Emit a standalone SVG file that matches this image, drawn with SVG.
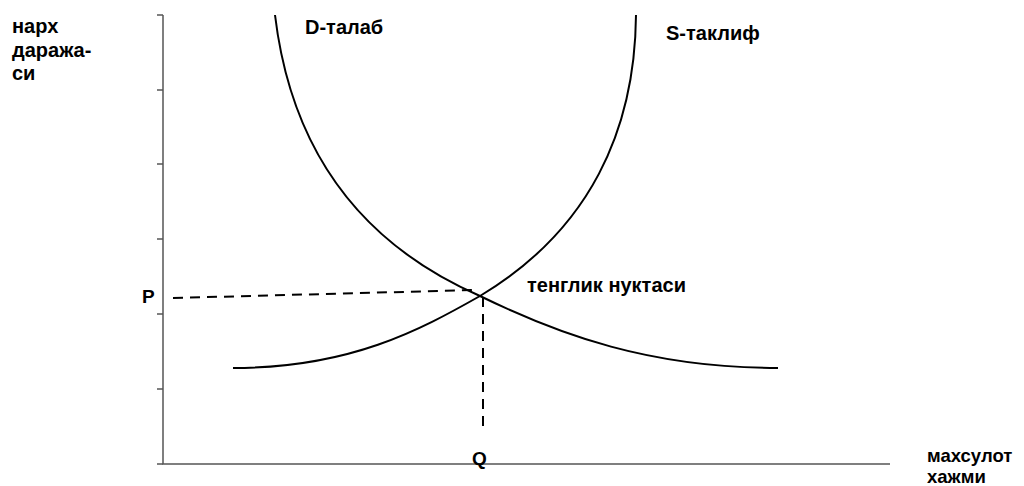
<svg xmlns="http://www.w3.org/2000/svg" width="1024" height="486" viewBox="0 0 1024 486">
<style>
.t{font-family:"Liberation Sans",Arial,sans-serif;font-weight:bold;font-size:20px;fill:#000}
.s{font-size:18.5px}
.ax{stroke:#555;stroke-width:1.5;fill:none}
.cv{stroke:#000;stroke-width:2;fill:none}
.ds{stroke:#000;stroke-width:2;fill:none;stroke-dasharray:10,7}
</style>
<rect width="1024" height="486" fill="#fff"/>
<g id="axes">
<path class="ax" d="M163,15V464H890"/>
<path class="ax" d="M157,15H163M157,90H163M157,164H163M157,239H163M157,314H163M157,389H163M157,464H163"/>
</g>
<g id="demand">
<path class="cv" d="M275,15C290,140 352,240 480,296C560,335 650,368 778,368"/>
</g>
<g id="supply">
<path class="cv" d="M233,368C350,368 420,330 480,296C590,230 635,130 636,15"/>
</g>
<g id="connectors">
<path class="ds" d="M173,298L476,290"/>
<path class="ds" d="M483,297V428"/>
</g>
<g id="labels">
<text class="t" x="12" y="33">нарх</text>
<text class="t" x="12" y="57">даража-</text>
<text class="t" x="12" y="80">си</text>
<text class="t" x="305" y="34">D-талаб</text>
<text class="t" x="666" y="40">S-таклиф</text>
<text class="t" x="527" y="292">тенглик нуктаси</text>
<text class="t" x="142" y="303" style="font-size:19px">P</text>
<text class="t" x="472" y="465" style="font-size:19px">Q</text>
<text class="t s" x="927" y="462">махсулот</text>
<text class="t s" x="927" y="483">хажми</text>
</g>
</svg>
